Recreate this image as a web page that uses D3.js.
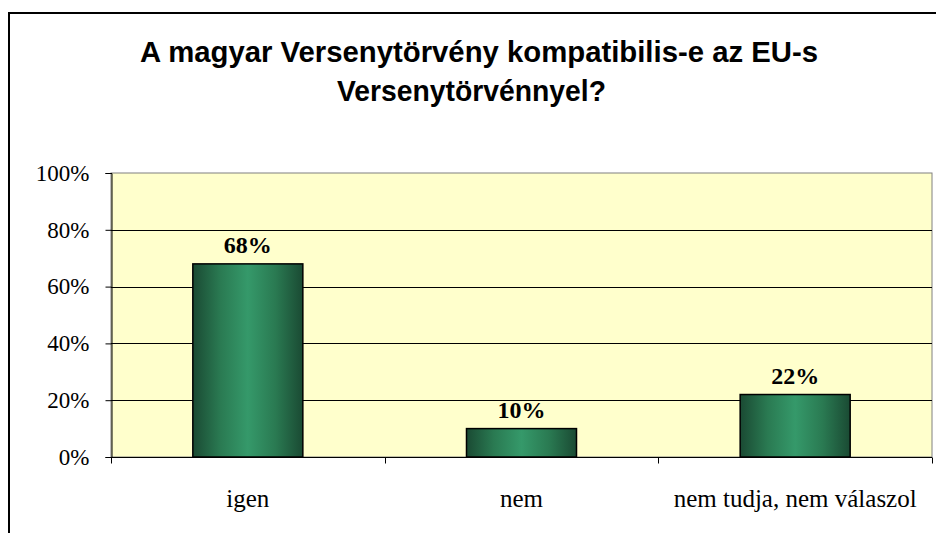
<!DOCTYPE html>
<html><head><meta charset="utf-8">
<script src="https://cdn.jsdelivr.net/npm/d3@7"></script>
<style>body{margin:0;background:#fff}svg{display:block}</style>
</head><body>
<svg id="c" width="936" height="533"></svg>
<script>
const titleLines = ["A magyar Versenytörvény kompatibilis-e az EU-s", "Versenytörvénnyel?"];
const categories = ["igen", "nem", "nem tudja, nem válaszol"];
const values = [68, 10, 22];
const yTicks = [0, 20, 40, 60, 80, 100];

const svg = d3.select("#c");
const plot = {l: 111, r: 932, t: 173, b: 457};

// frame
svg.append("rect").attr("x", 9).attr("y", 13).attr("width", 940).attr("height", 540)
  .attr("fill", "#fff").attr("stroke", "#000").attr("stroke-width", 2);

// title
const titleFont = "Liberation Sans, Arial, sans-serif";
svg.append("text").attr("x", 479).attr("y", 62).attr("text-anchor", "middle")
  .attr("font-family", titleFont).attr("font-weight", "bold")
  .attr("font-size", 29).attr("textLength", 678).attr("lengthAdjust", "spacingAndGlyphs")
  .text(titleLines[0]);
svg.append("text").attr("x", 471.5).attr("y", 101).attr("text-anchor", "middle")
  .attr("font-family", titleFont).attr("font-weight", "bold")
  .attr("font-size", 29).attr("textLength", 269).attr("lengthAdjust", "spacingAndGlyphs")
  .text(titleLines[1]);

const x = d3.scaleBand().domain(categories).range([plot.l, plot.r]).paddingInner(0).paddingOuter(0);
const y = d3.scaleLinear().domain([0, 100]).range([plot.b, plot.t]);

// plot background
svg.append("rect").attr("x", plot.l).attr("y", plot.t).attr("width", plot.r - plot.l).attr("height", plot.b - plot.t)
  .attr("fill", "#FFFFCC").attr("stroke", "#808080").attr("stroke-width", 1);

// gridlines
svg.append("g").selectAll("line").data(yTicks.filter(d => d > 0 && d < 100)).join("line")
  .attr("x1", plot.l).attr("x2", plot.r).attr("y1", d => Math.round(y(d)) + 0.5).attr("y2", d => Math.round(y(d)) + 0.5)
  .attr("stroke", "#000").attr("stroke-width", 1);

// gradient
const defs = svg.append("defs");
const g = defs.append("linearGradient").attr("id", "barGrad").attr("x1", "0%").attr("x2", "100%").attr("y1", "0%").attr("y2", "0%");
[[0, "#1a4a33"], [0.25, "#2a7a52"], [0.5, "#35996a"], [0.75, "#2a7a52"], [1, "#1a4a33"]].forEach(([o, c]) =>
  g.append("stop").attr("offset", o).attr("stop-color", c));

// bars
const bw = x.bandwidth() * 0.402;
svg.append("g").selectAll("rect").data(values).join("rect")
  .attr("x", (d, i) => x(categories[i]) + x.bandwidth() / 2 - bw / 2)
  .attr("y", d => y(d))
  .attr("width", bw)
  .attr("height", d => y(0) - y(d))
  .attr("fill", "url(#barGrad)").attr("stroke", "#000").attr("stroke-width", 1.5);

const serif = "Liberation Serif, Times New Roman, serif";
// data labels
svg.append("g").selectAll("text").data(values).join("text")
  .attr("x", (d, i) => x(categories[i]) + x.bandwidth() / 2)
  .attr("y", d => y(d) - 11)
  .attr("text-anchor", "middle")
  .attr("font-family", serif).attr("font-weight", "bold")
  .attr("font-size", 24).text(d => d + "%");

// y axis
const yAxis = d3.axisLeft(y).tickValues(yTicks).tickFormat(d => d + "%").tickSize(6).tickPadding(16);
const ya = svg.append("g").attr("transform", `translate(${plot.l + 0.5},0)`).call(yAxis);
ya.select(".domain").attr("stroke", "#000");
ya.selectAll("text").attr("font-family", serif).attr("font-size", 23).attr("fill", "#000");

// x axis
const xa = svg.append("g").attr("transform", `translate(0,${plot.b + 0.5})`);
xa.append("line").attr("x1", plot.l).attr("x2", plot.r).attr("stroke", "#000");
const tickX = [plot.l, ...categories.map(c => x(c) + x.bandwidth())];
xa.selectAll("line.t").data(tickX).join("line").attr("class", "t")
  .attr("x1", d => Math.round(d) + 0.5).attr("x2", d => Math.round(d) + 0.5).attr("y1", 0).attr("y2", 6).attr("stroke", "#000");
xa.selectAll("text").data(categories).join("text")
  .attr("x", c => x(c) + x.bandwidth() / 2).attr("y", 49).attr("text-anchor", "middle")
  .attr("font-family", serif).attr("font-size", 25).text(c => c);
</script>
</body></html>
